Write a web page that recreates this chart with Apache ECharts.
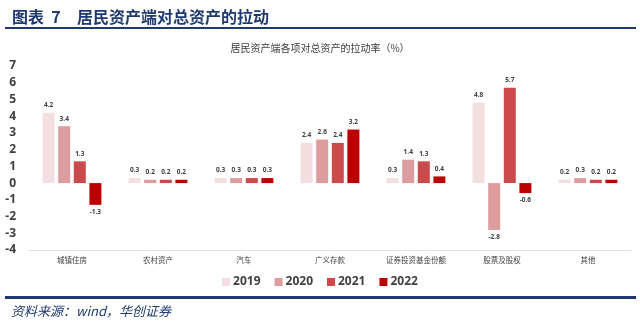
<!DOCTYPE html>
<html>
<head>
<meta charset="utf-8">
<script src="https://cdn.jsdelivr.net/npm/echarts@6/dist/echarts.min.js"></script>
<style>
  html, body { margin: 0; padding: 0; background: #fff; }
  #chart { width: 640px; height: 323px; }
</style>
</head>
<body>
<div id="chart"></div>
<script>
// Categories of household assets
const categories = ['城镇住房', '农村资产', '汽车', '广义存款', '证券投资基金份额', '股票及股权', '其他'];
const years = ['2019', '2020', '2021', '2022'];
// Contribution to total-asset growth (%), per year
const v2019 = [4.2, 0.3, 0.3, 2.4, 0.3, 4.8, 0.2];
const v2020 = [3.4, 0.2, 0.3, 2.6, 1.4, -2.8, 0.3];
const v2021 = [1.3, 0.2, 0.3, 2.4, 1.3, 5.7, 0.2];
const v2022 = [-1.3, 0.2, 0.3, 3.2, 0.4, -0.6, 0.2];
const yTicks = [-4, -3, -2, -1, 0, 1, 2, 3, 4, 5, 6, 7];

const colors = ['#f4dfe0', '#dd9c9e', '#cb4a4c', '#bb0000'];
const seriesValues = [v2019, v2020, v2021, v2022];
const cjk = '"Noto Sans CJK SC", "Noto Sans", sans-serif';
const navy = '#1f3a70';

const chart = echarts.init(document.getElementById('chart'), null, { renderer: 'canvas' });

chart.setOption({
  animation: false,
  backgroundColor: '#ffffff',
  title: [
    {
      text: '图表  7',
      left: 7, top: 4,
      textStyle: { fontFamily: cjk, fontSize: 16, fontWeight: 'bold', color: navy }
    },
    {
      text: '居民资产端对总资产的拉动',
      left: 72, top: 4,
      textStyle: { fontFamily: cjk, fontSize: 16, fontWeight: 'bold', color: navy }
    },
    {
      text: '居民资产端各项对总资产的拉动率（%）',
      left: 'center', top: 38,
      textStyle: { fontFamily: cjk, fontSize: 10, fontWeight: 'normal', color: '#404040' }
    },
    {
      text: '资料来源：wind，华创证券',
      left: 6, top: 300,
      textStyle: { fontFamily: cjk, fontSize: 13, fontStyle: 'italic', fontWeight: 'normal', color: navy }
    }
  ],
  graphic: [
    { type: 'rect', shape: { x: 5, y: 27, width: 631, height: 2 }, style: { fill: navy } },
    { type: 'rect', shape: { x: 5, y: 296, width: 631, height: 3 }, style: { fill: navy } }
  ],
  legend: {
    data: years,
    top: 271,
    left: 'center',
    itemWidth: 8, itemHeight: 8, itemGap: 14,
    icon: 'rect',
    textStyle: { fontFamily: '"Open Sans", sans-serif', fontSize: 12, fontWeight: 'bold', color: '#404040', padding: [0, 0, 0, -2] }
  },
  grid: { left: 29, right: 9, top: 66, bottom: 73, containLabel: false },
  xAxis: [
    {
      type: 'category',
      data: categories,
      position: 'bottom',
      axisLine: { show: false },
      axisTick: { show: false },
      axisLabel: { fontFamily: cjk, fontSize: 7.5, color: '#404040', margin: 6 }
    },
    {
      type: 'category',
      data: categories,
      position: 'bottom',
      axisLine: { show: true, onZero: true, lineStyle: { color: '#e0e0e0', width: 1 } },
      axisTick: { show: false },
      axisLabel: { show: false }
    }
  ],
  yAxis: {
    type: 'value',
    min: yTicks[0],
    max: yTicks[yTicks.length - 1],
    interval: 1,
    splitLine: { show: false },
    axisLine: { show: false },
    axisTick: { show: false },
    axisLabel: { fontFamily: '"Open Sans", sans-serif', fontSize: 12, fontWeight: 'bold', color: '#404040', margin: 13 }
  },
  series: years.map((y, i) => ({
    name: y,
    type: 'bar',
    xAxisIndex: 0,
    data: seriesValues[i],
    barWidth: 12,
    barGap: '30%',
    itemStyle: { color: colors[i] },
    label: {
      show: true,
      position: 'outside',
      distance: 4,
      fontFamily: '"Open Sans", sans-serif',
      fontSize: 6.5,
      fontWeight: 'bold',
      color: '#404040',
      formatter: p => p.value.toFixed(1)
    }
  }))
});
</script>
</body>
</html>
